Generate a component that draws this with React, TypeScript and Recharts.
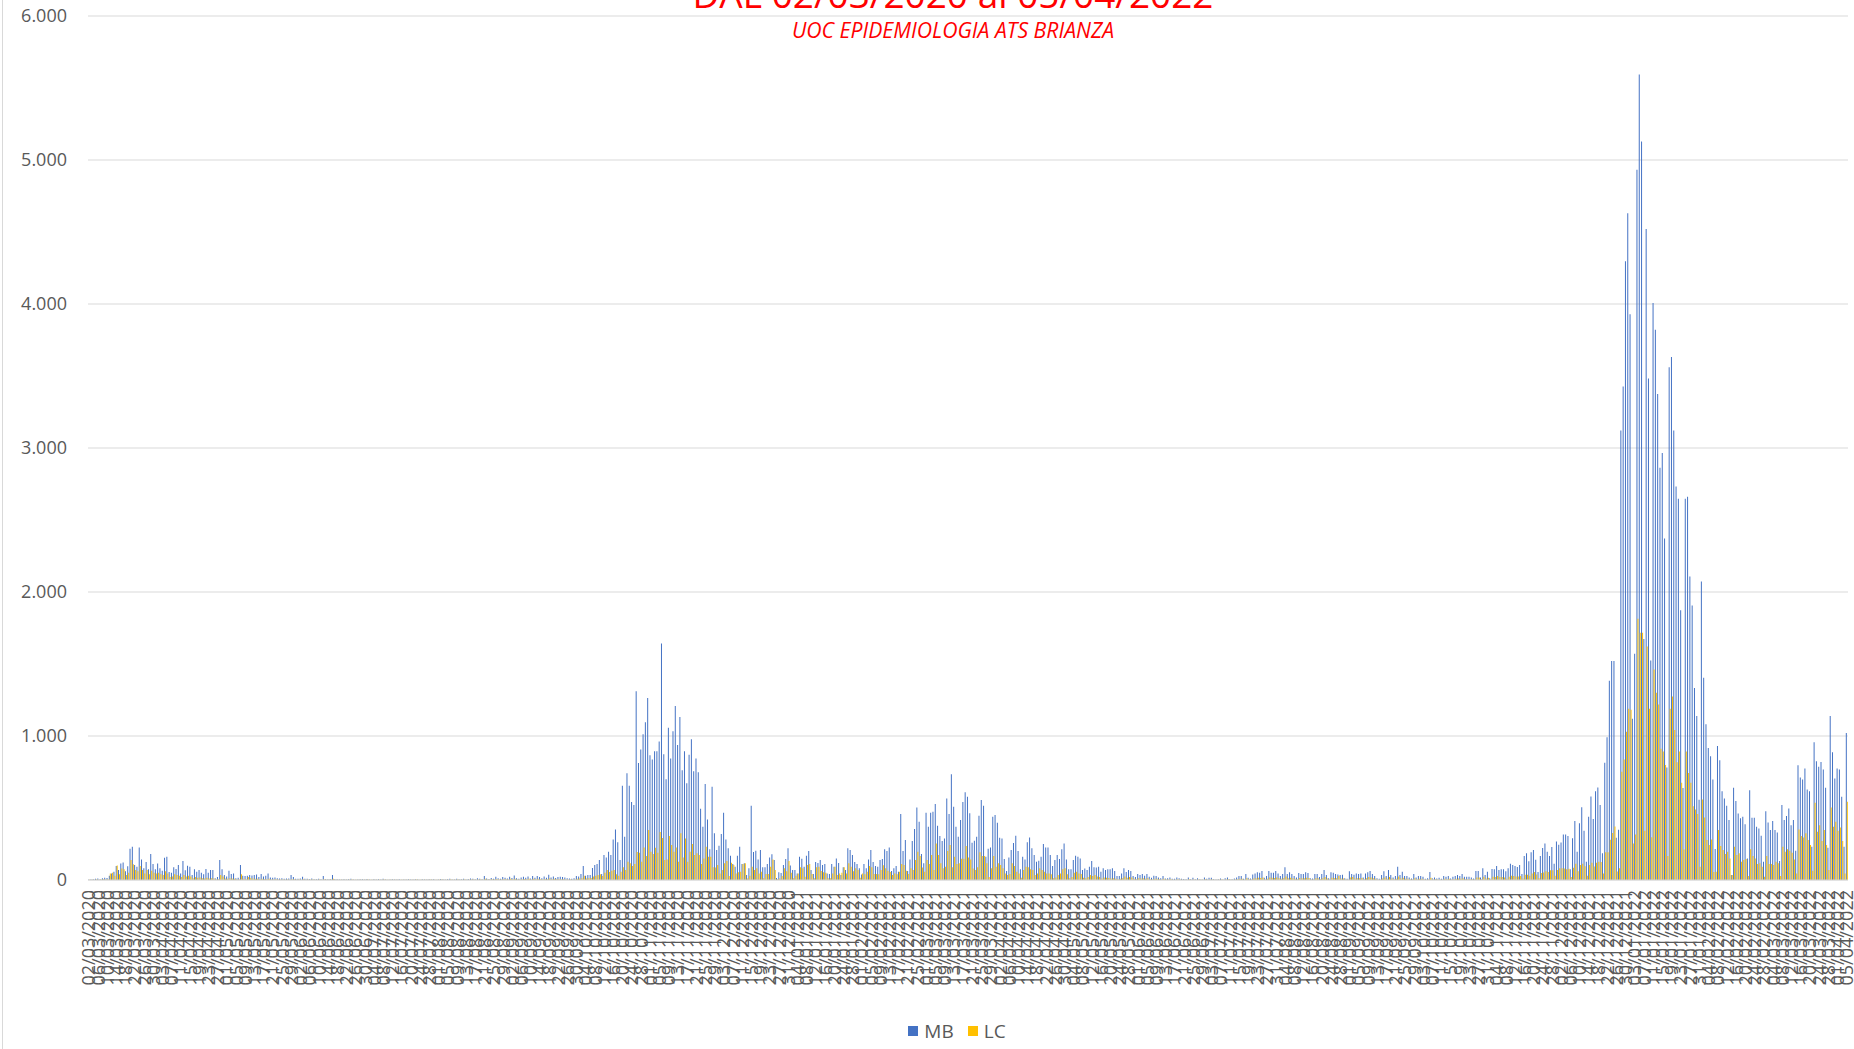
// Daily new cases MB / LC, ATS Brianza, 02/03/2020 - 05/04/2022 (Excel-style clustered columns)
import { BarChart, Bar, XAxis, YAxis, CartesianGrid, Legend } from "recharts";

const W = 1854;
const H = 1049;
const FONT = "'Open Sans', 'Liberation Sans', sans-serif";
const GRID = "#D9D9D9";
const TXT = "#595959";
const RED = "#FF0000";

const TITLE = "DAL 02/03/2020 al 05/04/2022";
const SUBTITLE = "UOC EPIDEMIOLOGIA ATS BRIANZA";
const START = [2020, 2, 2]; // 02/03/2020 (month 0-based)
const N_DAYS = 765; // up to 05/04/2022
const Y_TICKS = [0, 1000, 2000, 3000, 4000, 5000, 6000];

const SERIES = [
  { key: "mb", name: "MB", color: "#4472C4" },
  { key: "lc", name: "LC", color: "#FFC000" },
];

// ---- MB (Monza e Brianza) daily cases ----
// 02/03/2020 - 19/06/2020
const MB_A = [
  2, 3, 5, 8, 10, 6, 12, 15, 14, 30,
  45, 58, 97, 70, 115, 122, 60, 95, 217, 231,
  104, 92, 226, 143, 81, 125, 75, 180, 111, 74,
  115, 81, 65, 155, 162, 55, 51, 88, 76, 104,
  45, 132, 67, 99, 92, 35, 74, 58, 69, 51,
  40, 76, 51, 69, 69, 12, 20, 139, 74, 35,
  25, 65, 42, 46, 12, 15, 104, 30, 28, 30,
  35, 32, 35, 38, 20, 42, 25, 30, 46, 18,
  15, 18, 12, 10, 12, 8, 10, 10, 35, 20,
  9, 8, 10, 23, 8, 8, 6, 10, 6, 5,
  8, 6, 28, 5, 5, 7, 35, 6, 5, 4,
];
// 20/06/2020 - 22/09/2020
const MB_B = [
  4, 6, 3, 5, 8, 4, 2, 3, 6, 5,
  4, 7, 3, 2, 5, 4, 6, 3, 8, 4,
  2, 3, 5, 4, 3, 6, 2, 4, 3, 5,
  4, 3, 6, 4, 2, 5, 3, 4, 6, 3,
  5, 2, 4, 7, 5, 3, 6, 8, 4, 3,
  9, 6, 5, 8, 4, 7, 10, 8, 6, 12,
  9, 5, 28, 10, 7, 14, 9, 23, 12, 8,
  20, 15, 10, 23, 14, 32, 12, 9, 18, 22,
  15, 24, 11, 28, 16, 27, 20, 13, 24, 15,
  37, 18, 25, 14, 20,
];
// 23/09/2020 - 31/12/2020
const MB_C = [
  23, 20, 18, 12, 10, 8, 12, 28, 25, 42,
  97, 30, 35, 35, 83, 104, 111, 139, 42, 173,
  157, 196, 173, 282, 351, 263, 139, 654, 300, 742,
  654, 541, 520, 1310, 813, 906, 1012, 1095, 1264, 867,
  837, 894, 894, 961, 1643, 874, 700, 1058, 843, 1033,
  1209, 938, 1132, 763, 894, 672, 869, 978, 756, 843,
  749, 495, 370, 666, 421, 213, 647, 324, 208, 238,
  319, 467, 282, 220, 169, 111, 92, 169, 231, 111,
  116, 35, 81, 515, 194, 203, 143, 208, 88, 88,
  111, 157, 178, 139, 14, 53, 49, 104, 146, 220,
];
// 01/01/2021 - 23/05/2021
const MB_D = [
  100, 69, 69, 46, 162, 148, 92, 169, 201, 69,
  42, 125, 118, 139, 104, 111, 46, 42, 111, 92,
  150, 118, 35, 88, 69, 220, 208, 173, 125, 111,
  81, 39, 111, 81, 143, 208, 125, 97, 92, 139,
  146, 213, 201, 226, 62, 81, 97, 58, 458, 201,
  277, 62, 143, 270, 354, 504, 404, 180, 116, 467,
  370, 467, 474, 527, 377, 305, 270, 289, 566, 458,
  735, 508, 370, 300, 416, 541, 610, 578, 464, 259,
  273, 300, 446, 555, 515, 162, 217, 226, 439, 451,
  397, 293, 289, 146, 62, 157, 208, 257, 307, 201,
  74, 162, 143, 263, 296, 220, 173, 127, 134, 162,
  250, 226, 226, 173, 97, 139, 173, 146, 213, 254,
  143, 74, 74, 139, 169, 162, 150, 69, 79, 69,
  92, 132, 88, 86, 92, 58, 81, 69, 74, 74,
  81, 62, 28,
];
// 24/05/2021 - 05/11/2021
const MB_E = [
  28, 46, 81, 55, 69, 62, 28, 20, 42, 35,
  42, 30, 42, 23, 15, 30, 28, 18, 12, 28,
  10, 12, 18, 9, 8, 18, 12, 8, 7, 6,
  18, 5, 16, 6, 12, 5, 4, 18, 8, 16,
  15, 6, 4, 5, 10, 4, 12, 18, 5, 6,
  10, 18, 28, 28, 8, 42, 16, 10, 39, 46,
  53, 51, 62, 15, 28, 62, 51, 51, 62, 46,
  28, 42, 88, 42, 53, 42, 28, 18, 48, 42,
  42, 53, 48, 12, 10, 42, 42, 20, 42, 69,
  35, 12, 53, 51, 42, 39, 35, 37, 12, 8,
  60, 42, 37, 46, 42, 46, 18, 46, 53, 62,
  42, 28, 12, 8, 35, 60, 28, 69, 35, 18,
  28, 92, 35, 58, 28, 28, 18, 10, 42, 18,
  28, 28, 23, 8, 12, 55, 12, 18, 10, 16,
  8, 28, 23, 28, 10, 23, 28, 35, 28, 42,
  23, 23, 23, 18, 10, 62, 62, 18, 81, 35,
  58, 12, 76, 74, 97, 69,
];
// 06/11/2021 - 05/04/2022
const MB_F = [
  74, 74, 60, 82, 112, 104, 97, 90, 104, 42,
  167, 186, 130, 193, 208, 141, 56, 167, 223, 253,
  197, 167, 230, 112, 268, 245, 260, 316, 316, 305,
  74, 290, 409, 197, 394, 505, 342, 126, 439, 580,
  424, 617, 643, 520, 186, 814, 992, 1383, 1520, 1520,
  294, 349, 3122, 3427, 4297, 4631, 3929, 1119, 1572, 4932,
  5594, 5129, 1673, 4520, 3483, 1524, 4007, 3821, 3375, 2862,
  2966, 2371, 781, 3561, 3632, 3122, 2732, 2647, 1873, 639,
  2647, 2661, 2108, 1907, 1333, 1139, 558, 2073, 1405, 1082,
  917, 860, 698, 215, 931, 832, 617, 566, 515, 416,
  35, 640, 548, 462, 428, 439, 388, 150, 624, 432,
  432, 370, 358, 307, 127, 478, 400, 347, 409, 347,
  330, 132, 520, 416, 444, 497, 381, 416, 203, 797,
  712, 698, 774, 629, 617, 231, 957, 825, 786, 820,
  767, 640, 224, 1139, 887, 705, 774, 767, 578, 231,
  1021,
];

// ---- LC (Lecco) daily cases ----
const LC_A = [
  1, 1, 2, 3, 2, 3, 5, 4, 6, 46,
  50, 30, 100, 40, 80, 74, 35, 50, 139, 110,
  69, 60, 97, 69, 45, 69, 40, 65, 50, 45,
  50, 40, 35, 60, 45, 20, 25, 40, 35, 30,
  20, 35, 25, 30, 25, 12, 20, 15, 18, 12,
  10, 15, 10, 12, 10, 4, 6, 35, 25, 10,
  8, 12, 10, 8, 3, 4, 40, 8, 6, 20,
  12, 10, 8, 8, 5, 8, 6, 6, 8, 4,
  3, 5, 3, 2, 4, 2, 3, 2, 6, 5,
  2, 3, 2, 5, 2, 3, 1, 4, 2, 1,
  3, 2, 6, 1, 2, 3, 8, 2, 1, 2,
];
const LC_B = [
  1, 2, 1, 2, 3, 1, 1, 2, 2, 1,
  2, 3, 1, 1, 2, 1, 2, 1, 3, 2,
  1, 1, 2, 1, 2, 2, 1, 2, 1, 2,
  2, 1, 3, 2, 1, 2, 1, 2, 3, 1,
  2, 1, 2, 3, 2, 1, 2, 3, 2, 1,
  3, 2, 2, 3, 1, 2, 4, 3, 2, 4,
  3, 2, 8, 4, 3, 5, 3, 7, 4, 3,
  6, 5, 3, 8, 5, 9, 4, 3, 6, 7,
  5, 8, 4, 9, 5, 8, 6, 4, 7, 5,
  10, 6, 8, 5, 6,
];
const LC_C = [
  5, 6, 4, 3, 3, 2, 4, 8, 10, 12,
  30, 10, 12, 14, 25, 30, 35, 40, 28, 50,
  69, 55, 65, 69, 40, 30, 58, 88, 69, 127,
  116, 97, 111, 194, 190, 127, 226, 166, 347, 196,
  180, 224, 190, 333, 291, 139, 143, 305, 243, 196,
  226, 127, 324, 157, 289, 127, 196, 250, 173, 185,
  173, 111, 150, 231, 162, 162, 88, 86, 104, 46,
  69, 116, 132, 28, 120, 104, 46, 53, 58, 111,
  116, 10, 30, 92, 69, 81, 46, 58, 12, 42,
  42, 92, 143, 69, 5, 10, 28, 81, 60, 132,
];
const LC_D = [
  51, 12, 30, 46, 88, 81, 23, 104, 111, 42,
  12, 88, 92, 62, 53, 51, 12, 12, 46, 92,
  35, 46, 51, 88, 46, 116, 92, 60, 81, 69,
  15, 46, 40, 58, 97, 88, 42, 42, 40, 69,
  102, 81, 65, 55, 35, 46, 40, 58, 111, 104,
  65, 42, 81, 70, 139, 196, 166, 86, 58, 139,
  111, 173, 69, 254, 173, 116, 81, 92, 201, 243,
  88, 162, 111, 116, 148, 148, 236, 157, 143, 79,
  69, 88, 192, 166, 166, 116, 20, 81, 166, 92,
  116, 104, 81, 46, 35, 42, 116, 97, 58, 46,
  15, 69, 92, 88, 74, 69, 35, 46, 81, 69,
  58, 46, 46, 40, 12, 18, 35, 46, 74, 81,
  40, 12, 20, 51, 58, 46, 42, 15, 12, 20,
  35, 28, 35, 25, 20, 10, 18, 15, 14, 10,
  12, 8, 5,
];
const LC_E = [
  8, 12, 25, 15, 20, 18, 8, 5, 12, 10,
  12, 8, 12, 6, 4, 8, 8, 5, 3, 8,
  3, 3, 5, 2, 2, 5, 3, 2, 2, 2,
  5, 1, 4, 2, 3, 1, 1, 5, 2, 4,
  4, 2, 1, 1, 3, 1, 3, 5, 1, 2,
  3, 5, 8, 8, 2, 12, 5, 3, 10, 12,
  15, 14, 18, 4, 8, 18, 15, 14, 18, 12,
  8, 12, 25, 12, 15, 12, 8, 5, 14, 12,
  12, 15, 14, 3, 3, 12, 12, 6, 12, 20,
  10, 3, 15, 14, 12, 28, 10, 10, 3, 2,
  18, 20, 10, 12, 12, 14, 5, 12, 20, 18,
  12, 8, 3, 2, 10, 18, 8, 20, 10, 5,
  8, 25, 10, 16, 8, 8, 5, 3, 12, 5,
  8, 8, 6, 2, 3, 15, 3, 5, 3, 4,
  2, 8, 6, 8, 3, 6, 8, 10, 8, 12,
  6, 6, 6, 5, 3, 18, 18, 5, 23, 10,
  16, 3, 22, 20, 28, 20,
];
const LC_F = [
  20, 18, 8, 22, 30, 28, 25, 24, 28, 10,
  37, 37, 30, 45, 56, 38, 12, 48, 52, 60,
  55, 67, 67, 30, 70, 82, 82, 80, 74, 78,
  20, 85, 112, 60, 105, 112, 95, 30, 104, 120,
  93, 119, 126, 125, 45, 193, 193, 279, 327, 372,
  59, 82, 751, 836, 1030, 1189, 1182, 253, 316, 1814,
  1717, 1717, 342, 1621, 1189, 297, 1461, 1301, 1219, 911,
  892, 799, 167, 1189, 1275, 1041, 818, 892, 676, 212,
  892, 743, 675, 513, 490, 458, 92, 559, 434, 277,
  243, 282, 55, 58, 347, 236, 208, 180, 196, 150,
  35, 231, 173, 185, 127, 139, 146, 28, 213, 166,
  150, 111, 116, 92, 23, 166, 111, 111, 104, 127,
  116, 28, 231, 196, 213, 203, 190, 143, 46, 351,
  305, 296, 324, 277, 243, 65, 536, 335, 381, 270,
  347, 243, 69, 504, 370, 404, 342, 365, 270, 46,
  543,
];

const MB = [...MB_A, ...MB_B, ...MB_C, ...MB_D, ...MB_E, ...MB_F];
const LC = [...LC_A, ...LC_B, ...LC_C, ...LC_D, ...LC_E, ...LC_F];

const pad = (n: number) => String(n).padStart(2, "0");
const DATES: string[] = [];
for (let i = 0; i < N_DAYS; i++) {
  const d = new Date(Date.UTC(START[0], START[1], START[2] + i));
  DATES.push(`${pad(d.getUTCDate())}/${pad(d.getUTCMonth() + 1)}/${d.getUTCFullYear()}`);
}

const data = DATES.map((date, i) => ({ date, mb: MB[i] ?? 0, lc: LC[i] ?? 0 }));

const fmtIt = (v: number) => String(v).replace(/\B(?=(\d{3})+(?!\d))/g, ".");

function DateTick({ x, y, payload }: { x: number; y: number; payload: { value: string } }) {
  return (
    <text x={x} y={y} dy="0.35em" transform={`rotate(-90 ${x} ${y})`} textAnchor="end"
      fontFamily={FONT} fontSize={18} fill={TXT}>
      {payload.value}
    </text>
  );
}

function LegendBox() {
  return (
    <div style={{ display: "flex", justifyContent: "center", alignItems: "center", paddingLeft: 74,
      fontFamily: FONT, fontSize: 19, color: TXT, lineHeight: "24px" }}>
      {SERIES.map((s) => (
        <span key={s.key} style={{ display: "flex", alignItems: "center", marginRight: 14 }}>
          <span style={{ width: 10, height: 10, background: s.color, marginRight: 6, display: "inline-block" }} />
          {s.name}
        </span>
      ))}
    </div>
  );
}

export default function App() {
  return (
    <div style={{ position: "absolute", left: 0, top: 0, width: W, height: H, background: "#fff", overflow: "hidden" }}>
      <div style={{ position: "absolute", left: 2, top: 0, width: 1, height: H, background: GRID }} />
      <BarChart width={W} height={H} data={data} margin={{ top: 16, right: 6, bottom: 49, left: 0 }}
        barCategoryGap="5%" barGap={0}>
        <CartesianGrid vertical={false} stroke={GRID} strokeWidth={1} />
        <XAxis dataKey="date" interval={3} height={120} tickSize={0} tickMargin={10}
          axisLine={{ stroke: GRID }} tickLine={false} tick={DateTick as any} />
        <YAxis width={88} domain={[0, 6000]} ticks={Y_TICKS} tickFormatter={fmtIt} axisLine={false}
          tickLine={false} tickSize={0} tickMargin={21}
          tick={{ fontFamily: FONT, fontSize: 18, fill: TXT }} />
        <Legend layout="horizontal" verticalAlign="middle" align="center" content={<LegendBox />}
          wrapperStyle={{ left: 0, top: 1019, width: W }} />
        {SERIES.map((s) => (
          <Bar key={s.key} dataKey={s.key} name={s.name} fill={s.color} isAnimationActive={false} />
        ))}
      </BarChart>
      <svg width={W} height={60} style={{ position: "absolute", left: 0, top: 0, pointerEvents: "none" }}>
        <text x={953} y={8} textAnchor="middle" fontFamily={FONT} fontSize={37} fill={RED}>{TITLE}</text>
        <text x={953} y={38} textAnchor="middle" fontFamily={FONT} fontSize={21.2} fontStyle="italic" fill={RED}>{SUBTITLE}</text>
      </svg>
    </div>
  );
}
